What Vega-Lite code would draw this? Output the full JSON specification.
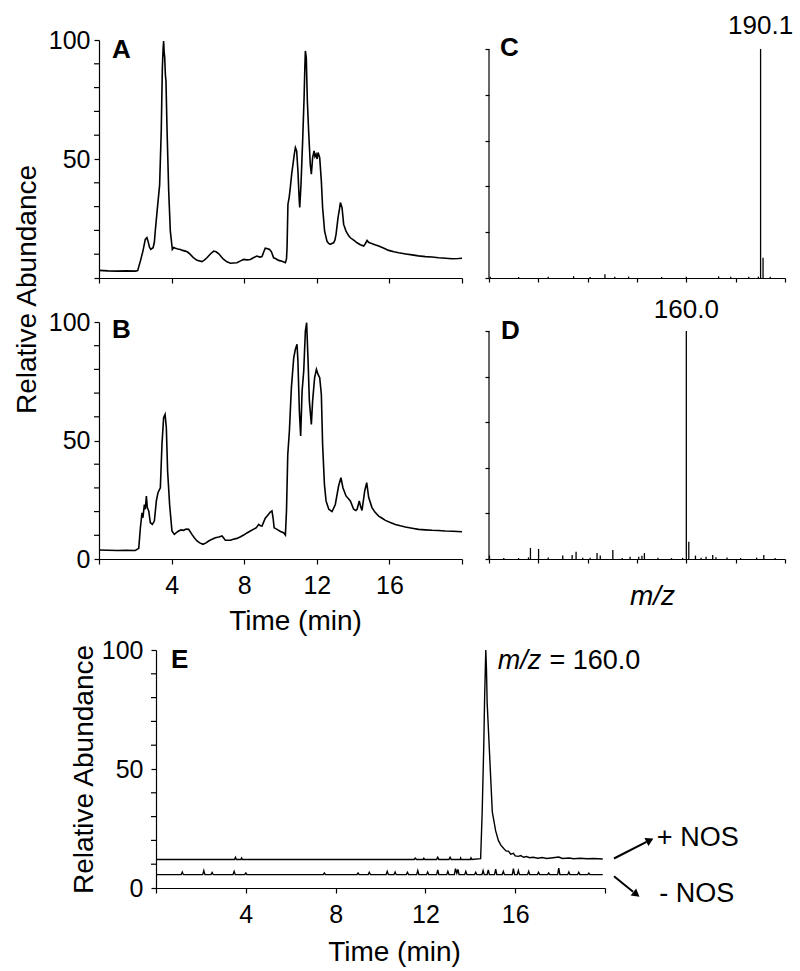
{
  "$schema": "https://vega.github.io/schema/vega-lite/v6.json",
  "padding": {"left": 13, "top": 12, "right": 5, "bottom": 5},
  "bounds": "flush",
  "columns": 2,
  "spacing": {"row": 44, "column": 27},
  "align": {"row": "each", "column": "each"},
  "datasets": {
    "minor": [{"v":10},{"v":20},{"v":30},{"v":40},{"v":60},{"v":70},{"v":80},{"v":90}]
  },
  "config": {
    "view": {"stroke": null},
    "font": "Liberation Sans",
    "axis": {"domainColor": "black", "tickColor": "black", "labelColor": "black", "titleColor": "black", "labelFont": "Liberation Sans", "titleFont": "Liberation Sans", "grid": false, "labelFontSize": 25, "titleFontSize": 28, "titleFontWeight": "normal", "tickSize": 5, "domainWidth": 1.2, "tickWidth": 1.2, "labelFlush": false, "labelOverlap": false}
  },
  "concat": [
    {
      "width": 363, "height": 238,
      "layer": [
        {
          "data": {"values": [
            {"t":0,"v":3.2},{"t":0.5,"v":3.0},{"t":1.0,"v":2.9},{"t":1.5,"v":3.0},{"t":2.0,"v":2.9},{"t":2.13,"v":3.1},{"t":2.2,"v":5},{"t":2.28,"v":7.1},{"t":2.42,"v":11.3},{"t":2.55,"v":16.2},{"t":2.64,"v":17},{"t":2.7,"v":15.5},{"t":2.78,"v":13},{"t":2.85,"v":12},{"t":2.98,"v":12.7},{"t":3.05,"v":15},{"t":3.1,"v":19.7},{"t":3.2,"v":28},{"t":3.34,"v":39},{"t":3.43,"v":62},{"t":3.49,"v":88},{"t":3.53,"v":96},{"t":3.56,"v":99.6},{"t":3.59,"v":95},{"t":3.62,"v":92.6},{"t":3.66,"v":85},{"t":3.69,"v":82.8},{"t":3.75,"v":62},{"t":3.84,"v":36.6},{"t":3.93,"v":19.7},{"t":4.04,"v":12},{"t":4.12,"v":12.8},{"t":4.21,"v":12.5},{"t":4.35,"v":12.2},{"t":4.48,"v":12},{"t":4.6,"v":11.6},{"t":4.76,"v":11.3},{"t":4.9,"v":10.8},{"t":5.03,"v":9.9},{"t":5.2,"v":8.6},{"t":5.4,"v":7.4},{"t":5.67,"v":6.9},{"t":5.8,"v":7.5},{"t":5.95,"v":8.5},{"t":6.15,"v":10.2},{"t":6.32,"v":11.3},{"t":6.45,"v":11},{"t":6.6,"v":10.2},{"t":6.75,"v":8.8},{"t":6.87,"v":7.8},{"t":7.05,"v":6.8},{"t":7.24,"v":6.2},{"t":7.4,"v":6.3},{"t":7.6,"v":6.4},{"t":7.8,"v":7.2},{"t":7.97,"v":7.8},{"t":8.15,"v":7.6},{"t":8.34,"v":7.8},{"t":8.5,"v":8.5},{"t":8.7,"v":9.2},{"t":8.85,"v":8.8},{"t":8.98,"v":9},{"t":9.08,"v":11},{"t":9.16,"v":12.5},{"t":9.3,"v":12.3},{"t":9.4,"v":12},{"t":9.5,"v":11},{"t":9.62,"v":8.5},{"t":9.72,"v":8.2},{"t":9.9,"v":7.4},{"t":10.0,"v":7.2},{"t":10.15,"v":6.8},{"t":10.27,"v":6.4},{"t":10.33,"v":8},{"t":10.36,"v":12.7},{"t":10.41,"v":31},{"t":10.48,"v":34},{"t":10.54,"v":38},{"t":10.62,"v":44},{"t":10.69,"v":47.8},{"t":10.76,"v":52},{"t":10.82,"v":54.8},{"t":10.89,"v":53.4},{"t":10.96,"v":45},{"t":11.03,"v":33},{"t":11.06,"v":29.6},{"t":11.13,"v":39.4},{"t":11.22,"v":57.6},{"t":11.3,"v":75.8},{"t":11.34,"v":88},{"t":11.37,"v":95.4},{"t":11.42,"v":92.6},{"t":11.48,"v":74.4},{"t":11.55,"v":61.8},{"t":11.64,"v":47.8},{"t":11.7,"v":43.6},{"t":11.77,"v":50.6},{"t":11.85,"v":53.4},{"t":11.9,"v":51},{"t":11.96,"v":52},{"t":12.02,"v":50},{"t":12.07,"v":52.7},{"t":12.16,"v":50.6},{"t":12.25,"v":40.8},{"t":12.32,"v":29.6},{"t":12.43,"v":19.7},{"t":12.56,"v":15.5},{"t":12.65,"v":14.5},{"t":12.75,"v":14.1},{"t":12.85,"v":14.6},{"t":12.93,"v":14.8},{"t":13.0,"v":16},{"t":13.06,"v":18.3},{"t":13.17,"v":25.4},{"t":13.25,"v":29},{"t":13.3,"v":31.7},{"t":13.39,"v":29.6},{"t":13.48,"v":22.5},{"t":13.61,"v":19.7},{"t":13.75,"v":17.8},{"t":13.85,"v":16.9},{"t":14.05,"v":15.8},{"t":14.22,"v":14.8},{"t":14.4,"v":14},{"t":14.58,"v":13.4},{"t":14.68,"v":14.5},{"t":14.77,"v":15.8},{"t":14.85,"v":15},{"t":14.95,"v":14.7},{"t":15.2,"v":14},{"t":15.41,"v":13.4},{"t":15.7,"v":12.5},{"t":15.96,"v":11.6},{"t":16.25,"v":11},{"t":16.51,"v":10.6},{"t":16.9,"v":10.1},{"t":17.25,"v":9.7},{"t":17.6,"v":9.3},{"t":17.98,"v":9},{"t":18.35,"v":8.8},{"t":18.71,"v":8.5},{"t":19.1,"v":8.3},{"t":19.45,"v":8.1},{"t":19.8,"v":8.2},{"t":20.0,"v":8.3}
          ]},
          "mark": {"type": "line", "color": "black", "strokeWidth": 1.6},
          "encoding": {
            "x": {"field": "t", "type": "quantitative", "scale": {"domain": [0, 20], "nice": false, "zero": false}, "axis": {"values": [0,2,4,6,8,10,12,14,16,18,20], "labels": false, "title": null}},
            "y": {"field": "v", "type": "quantitative", "scale": {"domain": [0, 100], "nice": false}, "axis": {"values": [0,50,100], "labelExpr": "datum.value > 0 ? datum.label : ''", "labelPadding": 4, "title": null}}
          }
        },
        {
          "data": {"name": "minor"},
          "mark": {"type": "rule", "color": "black", "strokeWidth": 1.2, "x2Offset": -5},
          "encoding": {"x": {"datum": 0}, "x2": {"datum": 0}, "y": {"field": "v", "type": "quantitative"}}
        },
        {
          "data": {"values": [{"label": "A"}]},
          "mark": {"type": "text", "fontWeight": "bold", "fontSize": 26, "align": "left", "baseline": "alphabetic", "color": "black"},
          "encoding": {"x": {"datum": 0.72}, "y": {"datum": 92.4}, "text": {"field": "label"}}
        }
      ]
    },
    {
      "width": 296, "height": 238,
      "layer": [
        {
          "data": {"values": [
            {"mz":80.5,"i":0.6},{"mz":92.0,"i":0.4},{"mz":104.0,"i":0.5},{"mz":114.3,"i":0.8},{"mz":121.0,"i":0.4},{"mz":127.0,"i":1.6},{"mz":131.0,"i":0.5},{"mz":136.6,"i":0.6},{"mz":150.0,"i":0.4},{"mz":160.0,"i":0.5},{"mz":173.1,"i":0.7},{"mz":178.0,"i":0.5},{"mz":185.3,"i":0.6},{"mz":189.2,"i":0.6},{"mz":190.1,"i":100},{"mz":191.1,"i":8.8},{"mz":194.0,"i":0.5}
          ]},
          "mark": {"type": "rule", "color": "black", "strokeWidth": 1.3},
          "encoding": {
            "x": {"field": "mz", "type": "quantitative", "scale": {"domain": [80, 200], "nice": false, "zero": false}, "axis": {"values": [80,85,90,95,100,105,110,115,120,125,130,135,140,145,150,155,160,165,170,175,180,185,190,195,200], "labels": false, "title": null, "tickSize": 4}},
            "y": {"field": "i", "type": "quantitative", "scale": {"domain": [0, 103.9], "nice": false}, "axis": {"values": [0,10,20,30,40,50,60,70,80,90,100], "labels": false, "title": null, "domain": false, "tickSize": 4}},
            "y2": {"datum": 0}
          }
        },
        {
          "data": {"values": [{}]},
          "mark": {"type": "rule", "color": "black", "strokeWidth": 1.2},
          "encoding": {"x": {"datum": 80}, "y": {"datum": 0}, "y2": {"datum": 100}}
        },
        {
          "data": {"values": [{"label": "C"}]},
          "mark": {"type": "text", "fontWeight": "bold", "fontSize": 26, "align": "left", "baseline": "alphabetic", "color": "black"},
          "encoding": {"x": {"datum": 84.5}, "y": {"datum": 97}, "text": {"field": "label"}}
        },
        {
          "data": {"values": [{"label": "190.1"}]},
          "mark": {"type": "text", "fontSize": 26, "align": "center", "baseline": "alphabetic", "dy": -15, "color": "black"},
          "encoding": {"x": {"datum": 190.1}, "y": {"datum": 100}, "text": {"field": "label"}}
        }
      ]
    },
    {
      "width": 363, "height": 237,
      "layer": [
        {
          "data": {"values": [
            {"t":0,"v":3.8},{"t":0.5,"v":3.7},{"t":1.0,"v":3.6},{"t":1.5,"v":3.7},{"t":2.0,"v":3.6},{"t":2.19,"v":4.5},{"t":2.28,"v":13.2},{"t":2.37,"v":19.5},{"t":2.42,"v":17.4},{"t":2.5,"v":23},{"t":2.55,"v":21},{"t":2.61,"v":26.6},{"t":2.66,"v":21.7},{"t":2.74,"v":20.3},{"t":2.83,"v":15.3},{"t":2.94,"v":14.6},{"t":3.05,"v":16},{"t":3.16,"v":24.5},{"t":3.25,"v":28},{"t":3.38,"v":30},{"t":3.47,"v":48.4},{"t":3.56,"v":59.6},{"t":3.64,"v":61},{"t":3.71,"v":55.4},{"t":3.78,"v":37.1},{"t":3.89,"v":23},{"t":4.02,"v":11.8},{"t":4.15,"v":10.4},{"t":4.28,"v":11.2},{"t":4.39,"v":11.8},{"t":4.52,"v":12.3},{"t":4.66,"v":12.1},{"t":4.8,"v":12.6},{"t":4.94,"v":12.5},{"t":5.12,"v":10.4},{"t":5.25,"v":9},{"t":5.4,"v":7.6},{"t":5.55,"v":6.8},{"t":5.73,"v":6.2},{"t":5.9,"v":6.8},{"t":6.04,"v":7.6},{"t":6.2,"v":8.2},{"t":6.41,"v":9},{"t":6.6,"v":9.3},{"t":6.78,"v":9.7},{"t":6.9,"v":8.5},{"t":6.96,"v":7.9},{"t":7.24,"v":7.9},{"t":7.4,"v":8.3},{"t":7.6,"v":8.7},{"t":7.8,"v":9.4},{"t":7.97,"v":10.1},{"t":8.15,"v":11},{"t":8.34,"v":11.8},{"t":8.5,"v":12.5},{"t":8.67,"v":13.2},{"t":8.8,"v":14.6},{"t":8.9,"v":14},{"t":8.98,"v":13.9},{"t":9.16,"v":17.2},{"t":9.3,"v":18.5},{"t":9.44,"v":19.8},{"t":9.53,"v":20.3},{"t":9.59,"v":17.4},{"t":9.65,"v":13.2},{"t":9.71,"v":12.9},{"t":9.9,"v":12.1},{"t":10.0,"v":11.6},{"t":10.17,"v":11.1},{"t":10.27,"v":10.1},{"t":10.33,"v":20.3},{"t":10.4,"v":44},{"t":10.49,"v":54},{"t":10.6,"v":72.3},{"t":10.73,"v":85},{"t":10.82,"v":88.5},{"t":10.91,"v":90.6},{"t":10.96,"v":83.5},{"t":11.04,"v":62.4},{"t":11.11,"v":51.9},{"t":11.19,"v":70.9},{"t":11.28,"v":79.3},{"t":11.37,"v":96.2},{"t":11.44,"v":99.7},{"t":11.52,"v":83.5},{"t":11.59,"v":66.7},{"t":11.7,"v":56.8},{"t":11.77,"v":66.7},{"t":11.88,"v":76.5},{"t":11.98,"v":80},{"t":12.07,"v":77.9},{"t":12.16,"v":76.5},{"t":12.25,"v":69.5},{"t":12.32,"v":48.4},{"t":12.42,"v":31.5},{"t":12.51,"v":24.5},{"t":12.66,"v":21},{"t":12.84,"v":20},{"t":13.02,"v":23},{"t":13.2,"v":30.8},{"t":13.33,"v":34.3},{"t":13.44,"v":30.1},{"t":13.61,"v":26.6},{"t":13.85,"v":24.5},{"t":14.03,"v":21},{"t":14.15,"v":20.5},{"t":14.22,"v":21},{"t":14.34,"v":24.5},{"t":14.42,"v":22},{"t":14.49,"v":20.5},{"t":14.64,"v":28.7},{"t":14.75,"v":32.2},{"t":14.86,"v":25.9},{"t":15.04,"v":21.7},{"t":15.2,"v":19.8},{"t":15.41,"v":18.1},{"t":15.6,"v":17.2},{"t":15.78,"v":16.3},{"t":16.05,"v":15.4},{"t":16.33,"v":14.6},{"t":16.6,"v":14},{"t":16.88,"v":13.5},{"t":17.25,"v":13},{"t":17.61,"v":12.5},{"t":17.98,"v":12.3},{"t":18.35,"v":12.1},{"t":18.7,"v":12},{"t":19.08,"v":11.8},{"t":19.5,"v":11.7},{"t":20.0,"v":11.5}
          ]},
          "mark": {"type": "line", "color": "black", "strokeWidth": 1.6},
          "encoding": {
            "x": {"field": "t", "type": "quantitative", "scale": {"domain": [0, 20], "nice": false, "zero": false}, "axis": {"values": [0,2,4,6,8,10,12,14,16,18,20], "labelExpr": "(datum.value % 4 == 0 && datum.value > 0 && datum.value < 20) ? datum.label : ''", "labelPadding": 9, "title": "Time (min)", "titlePadding": 9, "titleX": 196}},
            "y": {"field": "v", "type": "quantitative", "scale": {"domain": [0, 100], "nice": false}, "axis": {"values": [0,50,100], "labelPadding": 4, "title": "Relative Abundance", "titleY": -33, "titlePadding": 7}}
          }
        },
        {
          "data": {"name": "minor"},
          "mark": {"type": "rule", "color": "black", "strokeWidth": 1.2, "x2Offset": -5},
          "encoding": {"x": {"datum": 0}, "x2": {"datum": 0}, "y": {"field": "v", "type": "quantitative"}}
        },
        {
          "data": {"values": [{"label": "B"}]},
          "mark": {"type": "text", "fontWeight": "bold", "fontSize": 26, "align": "left", "baseline": "alphabetic", "color": "black"},
          "encoding": {"x": {"datum": 0.72}, "y": {"datum": 93.2}, "text": {"field": "label"}}
        }
      ]
    },
    {
      "width": 296, "height": 237,
      "layer": [
        {
          "data": {"values": [
            {"mz":80.2,"i":1.5},{"mz":86.0,"i":0.4},{"mz":92.0,"i":0.4},{"mz":96.0,"i":0.7},{"mz":96.8,"i":4.8},{"mz":100.1,"i":4.4},{"mz":104.0,"i":0.7},{"mz":109.9,"i":1.5},{"mz":113.7,"i":1.8},{"mz":115.3,"i":3.2},{"mz":118.0,"i":0.6},{"mz":121.0,"i":0.5},{"mz":123.8,"i":2.6},{"mz":125.1,"i":1.5},{"mz":130.2,"i":3.9},{"mz":134.0,"i":0.4},{"mz":137.2,"i":1.0},{"mz":140.7,"i":1.0},{"mz":142.0,"i":1.4},{"mz":143.0,"i":2.6},{"mz":148.5,"i":0.6},{"mz":154.0,"i":0.4},{"mz":158.5,"i":0.5},{"mz":160.0,"i":100},{"mz":161.0,"i":7.6},{"mz":163.7,"i":1.5},{"mz":166.0,"i":0.5},{"mz":168.0,"i":1.0},{"mz":170.7,"i":1.8},{"mz":172.0,"i":0.8},{"mz":176.5,"i":0.7},{"mz":182.0,"i":0.4},{"mz":188.5,"i":0.6},{"mz":191.4,"i":1.8},{"mz":196.0,"i":0.4}
          ]},
          "mark": {"type": "rule", "color": "black", "strokeWidth": 1.3},
          "encoding": {
            "x": {"field": "mz", "type": "quantitative", "scale": {"domain": [80, 200], "nice": false, "zero": false}, "axis": {"values": [80,85,90,95,100,105,110,115,120,125,130,135,140,145,150,155,160,165,170,175,180,185,190,195,200], "labels": false, "title": "m/z", "titleFontStyle": "italic", "titlePadding": 19, "titleX": 163, "tickSize": 4}},
            "y": {"field": "i", "type": "quantitative", "scale": {"domain": [0, 103.9], "nice": false}, "axis": {"values": [0,10,20,30,40,50,60,70,80,90,100], "labels": false, "title": null, "domain": false, "tickSize": 4}},
            "y2": {"datum": 0}
          }
        },
        {
          "data": {"values": [{}]},
          "mark": {"type": "rule", "color": "black", "strokeWidth": 1.2},
          "encoding": {"x": {"datum": 80}, "y": {"datum": 0}, "y2": {"datum": 100}}
        },
        {
          "data": {"values": [{"label": "D"}]},
          "mark": {"type": "text", "fontWeight": "bold", "fontSize": 26, "align": "left", "baseline": "alphabetic", "color": "black"},
          "encoding": {"x": {"datum": 84.9}, "y": {"datum": 96.5}, "text": {"field": "label"}}
        },
        {
          "data": {"values": [{"label": "160.0"}]},
          "mark": {"type": "text", "fontSize": 26, "align": "center", "baseline": "alphabetic", "dy": -13, "color": "black"},
          "encoding": {"x": {"datum": 160.0}, "y": {"datum": 100}, "text": {"field": "label"}}
        }
      ]
    },
    {"width": 1, "height": 3, "data": {"values": [{}]}, "mark": {"type": "point", "opacity": 0}},
    {"width": 1, "height": 3, "data": {"values": [{}]}, "mark": {"type": "point", "opacity": 0}},
    {
      "width": 363, "height": 238,
      "layer": [
        {
          "data": {"values": [
            {"s":"plus","t":0,"v":12},{"s":"plus","t":3.5,"v":12},{"s":"plus","t":3.54,"v":12.9},{"s":"plus","t":3.58,"v":12},{"s":"plus","t":3.78,"v":12},{"s":"plus","t":3.81,"v":12.6},{"s":"plus","t":3.85,"v":12},{"s":"plus","t":11.5,"v":12},{"s":"plus","t":11.55,"v":12.6},{"s":"plus","t":11.6,"v":12},{"s":"plus","t":11.9,"v":12},{"s":"plus","t":11.93,"v":12.5},{"s":"plus","t":11.97,"v":12},{"s":"plus","t":12.5,"v":12},{"s":"plus","t":12.55,"v":12.9},{"s":"plus","t":12.6,"v":12},{"s":"plus","t":13.05,"v":12},{"s":"plus","t":13.1,"v":12.9},{"s":"plus","t":13.15,"v":12},{"s":"plus","t":13.55,"v":12},{"s":"plus","t":13.57,"v":12.6},{"s":"plus","t":13.6,"v":12},{"s":"plus","t":14.0,"v":12},{"s":"plus","t":14.03,"v":12.7},{"s":"plus","t":14.07,"v":12},{"s":"plus","t":14.46,"v":12.3},{"s":"plus","t":14.53,"v":32},{"s":"plus","t":14.6,"v":60},{"s":"plus","t":14.64,"v":81},{"s":"plus","t":14.69,"v":100},{"s":"plus","t":14.72,"v":92},{"s":"plus","t":14.75,"v":78},{"s":"plus","t":14.84,"v":60},{"s":"plus","t":14.98,"v":32},{"s":"plus","t":15.13,"v":24},{"s":"plus","t":15.25,"v":20},{"s":"plus","t":15.36,"v":18},{"s":"plus","t":15.5,"v":16.5},{"s":"plus","t":15.6,"v":15.5},{"s":"plus","t":15.7,"v":15.5},{"s":"plus","t":15.8,"v":14.2},{"s":"plus","t":15.92,"v":14.6},{"s":"plus","t":16.0,"v":13.5},{"s":"plus","t":16.14,"v":13.3},{"s":"plus","t":16.25,"v":13.6},{"s":"plus","t":16.37,"v":12.9},{"s":"plus","t":16.5,"v":13.2},{"s":"plus","t":16.65,"v":12.7},{"s":"plus","t":16.8,"v":12.9},{"s":"plus","t":17.0,"v":12.5},{"s":"plus","t":17.2,"v":12.8},{"s":"plus","t":17.4,"v":12.4},{"s":"plus","t":17.6,"v":12.6},{"s":"plus","t":17.94,"v":13},{"s":"plus","t":18.1,"v":12.4},{"s":"plus","t":18.4,"v":12.6},{"s":"plus","t":18.6,"v":12.3},{"s":"plus","t":18.9,"v":12.5},{"s":"plus","t":19.2,"v":12.3},{"s":"plus","t":19.5,"v":12.4},{"s":"plus","t":19.9,"v":12.2},
            {"s":"minus","t":0,"v":5.6},{"s":"minus","t":1.12,"v":5.6},{"s":"minus","t":1.17,"v":6.7},{"s":"minus","t":1.22,"v":5.6},{"s":"minus","t":2.08,"v":5.6},{"s":"minus","t":2.13,"v":7.3},{"s":"minus","t":2.18,"v":5.6},{"s":"minus","t":2.45,"v":5.6},{"s":"minus","t":2.5,"v":6.5},{"s":"minus","t":2.55,"v":5.6},{"s":"minus","t":3.43,"v":5.6},{"s":"minus","t":3.48,"v":7.0},{"s":"minus","t":3.53,"v":5.6},{"s":"minus","t":3.95,"v":5.6},{"s":"minus","t":4.0,"v":6.3},{"s":"minus","t":4.05,"v":5.6},{"s":"minus","t":7.45,"v":5.6},{"s":"minus","t":7.5,"v":6.3},{"s":"minus","t":7.55,"v":5.6},{"s":"minus","t":8.95,"v":5.6},{"s":"minus","t":9.0,"v":6.3},{"s":"minus","t":9.05,"v":5.6},{"s":"minus","t":9.45,"v":5.6},{"s":"minus","t":9.5,"v":6.6},{"s":"minus","t":9.55,"v":5.6},{"s":"minus","t":10.25,"v":5.6},{"s":"minus","t":10.3,"v":7.0},{"s":"minus","t":10.35,"v":5.6},{"s":"minus","t":10.6,"v":5.6},{"s":"minus","t":10.65,"v":6.7},{"s":"minus","t":10.7,"v":5.6},{"s":"minus","t":11.15,"v":5.6},{"s":"minus","t":11.2,"v":6.6},{"s":"minus","t":11.25,"v":5.6},{"s":"minus","t":11.61,"v":5.6},{"s":"minus","t":11.66,"v":7.3},{"s":"minus","t":11.71,"v":5.6},{"s":"minus","t":12.05,"v":5.6},{"s":"minus","t":12.1,"v":6.7},{"s":"minus","t":12.15,"v":5.6},{"s":"minus","t":12.5,"v":5.6},{"s":"minus","t":12.55,"v":7.6},{"s":"minus","t":12.6,"v":5.6},{"s":"minus","t":12.95,"v":5.6},{"s":"minus","t":13.0,"v":7.0},{"s":"minus","t":13.05,"v":5.6},{"s":"minus","t":13.29,"v":5.6},{"s":"minus","t":13.34,"v":8.1},{"s":"minus","t":13.4,"v":6.2},{"s":"minus","t":13.45,"v":7.8},{"s":"minus","t":13.5,"v":5.6},{"s":"minus","t":13.75,"v":5.6},{"s":"minus","t":13.8,"v":7.0},{"s":"minus","t":13.85,"v":5.6},{"s":"minus","t":14.19,"v":5.6},{"s":"minus","t":14.24,"v":6.6},{"s":"minus","t":14.29,"v":5.6},{"s":"minus","t":14.52,"v":5.6},{"s":"minus","t":14.57,"v":7.3},{"s":"minus","t":14.62,"v":5.6},{"s":"minus","t":14.75,"v":5.6},{"s":"minus","t":14.8,"v":7.6},{"s":"minus","t":14.85,"v":5.6},{"s":"minus","t":15.08,"v":5.6},{"s":"minus","t":15.13,"v":7.9},{"s":"minus","t":15.18,"v":5.6},{"s":"minus","t":15.42,"v":5.6},{"s":"minus","t":15.47,"v":7.0},{"s":"minus","t":15.52,"v":5.6},{"s":"minus","t":15.87,"v":5.6},{"s":"minus","t":15.92,"v":8.1},{"s":"minus","t":15.97,"v":5.6},{"s":"minus","t":16.09,"v":5.6},{"s":"minus","t":16.14,"v":7.3},{"s":"minus","t":16.19,"v":5.6},{"s":"minus","t":16.55,"v":5.6},{"s":"minus","t":16.6,"v":7.0},{"s":"minus","t":16.65,"v":5.6},{"s":"minus","t":16.99,"v":5.6},{"s":"minus","t":17.04,"v":6.6},{"s":"minus","t":17.09,"v":5.6},{"s":"minus","t":17.44,"v":5.6},{"s":"minus","t":17.49,"v":6.3},{"s":"minus","t":17.54,"v":5.6},{"s":"minus","t":17.89,"v":5.6},{"s":"minus","t":17.94,"v":8.4},{"s":"minus","t":17.99,"v":5.6},{"s":"minus","t":18.34,"v":5.6},{"s":"minus","t":18.39,"v":6.7},{"s":"minus","t":18.44,"v":5.6},{"s":"minus","t":18.78,"v":5.6},{"s":"minus","t":18.83,"v":6.6},{"s":"minus","t":18.88,"v":5.6},{"s":"minus","t":19.23,"v":5.6},{"s":"minus","t":19.28,"v":6.2},{"s":"minus","t":19.33,"v":5.6},{"s":"minus","t":19.9,"v":5.6}
          ]},
          "mark": {"type": "line", "color": "black", "strokeWidth": 1.4},
          "encoding": {
            "x": {"field": "t", "type": "quantitative", "scale": {"domain": [0, 20], "range": [57, 506], "nice": false, "zero": false}, "axis": {"values": [0,2,4,6,8,10,12,14,16,18,20], "labelExpr": "(datum.value % 4 == 0 && datum.value > 0 && datum.value < 20) ? datum.label : ''", "labelPadding": 9, "title": "Time (min)", "titlePadding": 11, "titleX": 295}},
            "y": {"field": "v", "type": "quantitative", "scale": {"domain": [0, 100], "nice": false}, "axis": {"values": [0,50,100], "labelPadding": 8, "offset": -57, "title": "Relative Abundance", "titlePadding": 3}},
            "detail": {"field": "s", "type": "nominal"}
          }
        },
        {
          "data": {"name": "minor"},
          "mark": {"type": "rule", "color": "black", "strokeWidth": 1.2, "x2Offset": -5},
          "encoding": {"x": {"datum": 0}, "x2": {"datum": 0}, "y": {"field": "v", "type": "quantitative"}}
        },
        {
          "data": {"values": [{"label": "E"}]},
          "mark": {"type": "text", "fontWeight": "bold", "fontSize": 26, "align": "left", "baseline": "alphabetic", "color": "black"},
          "encoding": {"x": {"datum": 0.67}, "y": {"datum": 92.4}, "text": {"field": "label"}}
        },
        {
          "data": {"values": [{"label": "m/z"}]},
          "mark": {"type": "text", "fontSize": 27, "fontStyle": "italic", "align": "left", "baseline": "alphabetic", "color": "black"},
          "encoding": {"x": {"datum": 15.22}, "y": {"datum": 92}, "text": {"field": "label"}}
        },
        {
          "data": {"values": [{"label": "= 160.0"}]},
          "mark": {"type": "text", "fontSize": 27, "align": "left", "baseline": "alphabetic", "color": "black"},
          "encoding": {"x": {"datum": 17.53}, "y": {"datum": 92}, "text": {"field": "label"}}
        },
        {
          "data": {"values": [{"label": "+ NOS"}]},
          "mark": {"type": "text", "fontSize": 27, "align": "left", "baseline": "middle", "color": "black"},
          "encoding": {"x": {"datum": 22.31}, "y": {"datum": 21}, "text": {"field": "label"}}
        },
        {
          "data": {"values": [{"label": "- NOS"}]},
          "mark": {"type": "text", "fontSize": 27, "align": "left", "baseline": "middle", "color": "black"},
          "encoding": {"x": {"datum": 22.42}, "y": {"datum": -2.4}, "text": {"field": "label"}}
        },
        {
          "data": {"values": [{}]},
          "mark": {"type": "rule", "color": "black", "strokeWidth": 2},
          "encoding": {"x": {"datum": 20.4}, "y": {"datum": 12.4}, "x2": {"datum": 21.85}, "y2": {"datum": 19.4}}
        },
        {
          "data": {"values": [{}]},
          "mark": {"type": "rule", "color": "black", "strokeWidth": 2},
          "encoding": {"x": {"datum": 20.4}, "y": {"datum": 4.9}, "x2": {"datum": 21.25}, "y2": {"datum": -1.6}}
        },
        {
          "data": {"values": [{}]},
          "mark": {"type": "point", "shape": "triangle-right", "filled": true, "color": "black", "opacity": 1, "size": 80, "angle": 333},
          "encoding": {"x": {"datum": 22.0}, "y": {"datum": 20.1}}
        },
        {
          "data": {"values": [{}]},
          "mark": {"type": "point", "shape": "triangle-right", "filled": true, "color": "black", "opacity": 1, "size": 80, "angle": 38},
          "encoding": {"x": {"datum": 21.4}, "y": {"datum": -2.7}}
        }
      ]
    }
  ]
}
